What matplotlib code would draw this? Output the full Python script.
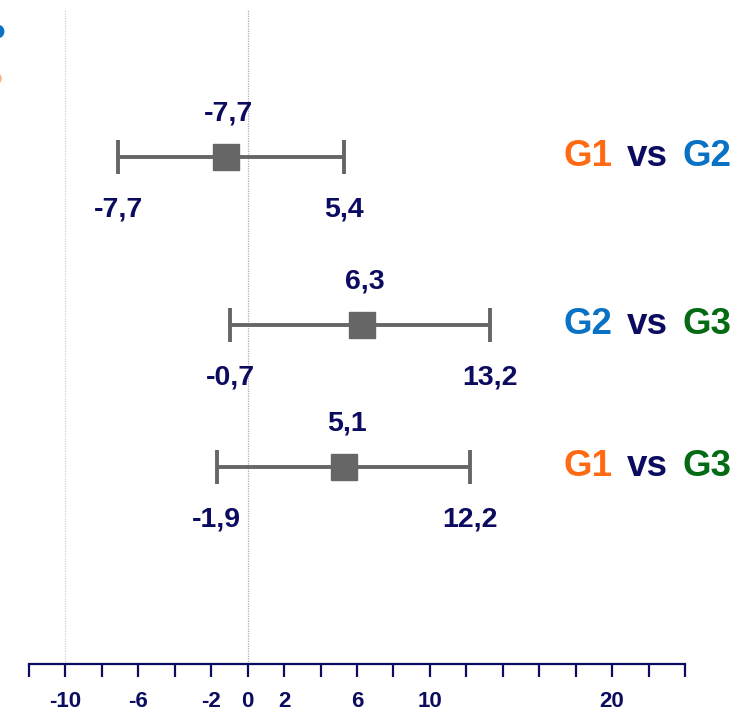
import matplotlib
matplotlib.use('Agg')
import matplotlib.pyplot as plt
import numpy as np

plt.rcParams.update({
    'font.family': ['Liberation Sans', 'DejaVu Sans'],
    'font.weight': 'bold',
})

# comparisons (top to bottom)
comparisons = [("G1", "G2"), ("G2", "G3"), ("G1", "G3")]
means = [-1.2, 6.3, 5.3]
ci_low = [-7.1, -0.95, -1.7]
ci_high = [5.3, 13.3, 12.2]
# printed labels as they appear on the chart
mean_labels = ["-7,7", "6,3", "5,1"]
low_labels = ["-7,7", "-0,7", "-1,9"]
high_labels = ["5,4", "13,2", "12,2"]

xticks = np.arange(-12, 25, 2)
labelled_ticks = [-10, -6, -2, 0, 2, 6, 10, 20]

group_colors = {"G1": "#FF6A13", "G2": "#0A72C4", "G3": "#046A14"}
navy = "#0B0B60"
grey = "#666666"

row_pos = [1.0, 2.0, 2.845]

fig = plt.figure(figsize=(7.46, 7.12), dpi=100)
ax = fig.add_axes([29 / 746, 1 - 664 / 712, 656 / 746, 654 / 712])

ax.set_xlim(-12, 24)
ax.set_ylim(4.018, 0.125)

# vertical reference lines
ax.axvline(-10, color="#d0d0d0", lw=0.9, ls=(0, (1, 1)), zorder=0)
ax.axvline(0, color="#aaaaaa", lw=0.9, ls=(0, (1, 1)), zorder=0)

for i in range(len(means)):
    y = row_pos[i]
    m = means[i]
    ax.errorbar([m], [y], xerr=[[m - ci_low[i]], [ci_high[i] - m]],
                fmt='s', color=grey, ms=19, ecolor=grey, elinewidth=2.8,
                capsize=12.5, capthick=2.8, zorder=3)
    ax.annotate(mean_labels[i], xy=(m, y), xytext=(2, 31), textcoords='offset points',
                ha='center', va='center', fontsize=20.5, color=navy, fontweight='bold')
    ax.annotate(low_labels[i], xy=(ci_low[i], y), xytext=(0, -38), textcoords='offset points',
                ha='center', va='center', fontsize=20.5, color=navy, fontweight='bold')
    ax.annotate(high_labels[i], xy=(ci_high[i], y), xytext=(0, -38), textcoords='offset points',
                ha='center', va='center', fontsize=20.5, color=navy, fontweight='bold')

    # right-hand label, built right to left
    a, b = comparisons[i]
    yf = ax.transData.transform((0, y))[1] / fig.bbox.height
    t = fig.text(732 / 746, yf, b, ha='right', va='center', fontsize=26.5,
                 color=group_colors[b], fontweight='bold')
    t = ax.annotate("vs", xy=(0, 0.5), xycoords=t, xytext=(-11, 0), textcoords='offset points',
                    ha='right', va='center', fontsize=26.5, color=navy, fontweight='bold')
    ax.annotate(a, xy=(0, 0.5), xycoords=t, xytext=(-10, 0), textcoords='offset points',
                ha='right', va='center', fontsize=26.5, color=group_colors[a], fontweight='bold')

# axis styling
for s in ['left', 'right', 'top']:
    ax.spines[s].set_visible(False)
ax.spines['bottom'].set_color(navy)
ax.spines['bottom'].set_linewidth(1.6)
ax.set_yticks([])
ax.set_xticks(xticks)
ax.set_xticklabels([str(v) if v in labelled_ticks else "" for v in xticks])
ax.tick_params(axis='x', direction='out', length=9.5, width=1.6, color=navy,
               labelcolor=navy, labelsize=16, pad=10)
for lbl in ax.get_xticklabels():
    lbl.set_fontweight('bold')

# legend fragments cut at the left edge
ax.plot([-0.004], [1 - 31 / 712], 'o', color="#0A72C4", ms=9, transform=fig.transFigure, clip_on=False)
ax.plot([-0.007], [1 - 78 / 712], 'o', color="#FFB080", ms=8, transform=fig.transFigure, clip_on=False)

fig.savefig("out.png", dpi=100)
